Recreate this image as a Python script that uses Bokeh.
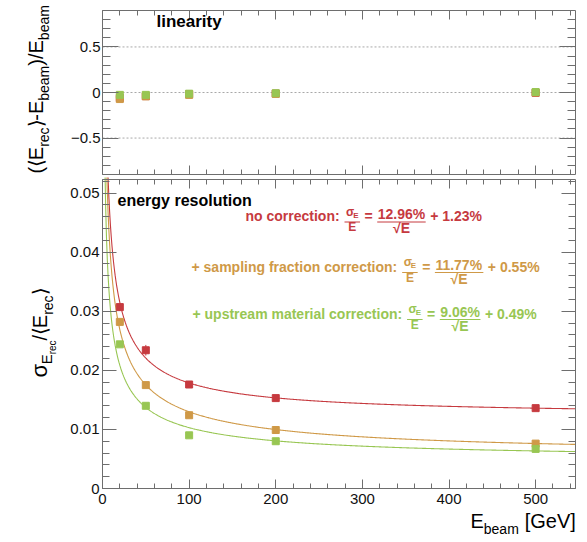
import numpy as np
from bokeh.plotting import figure
from bokeh.layouts import column
from bokeh.models import Label, FixedTicker, LinearAxis, Range1d
from bokeh.embed import file_html
from bokeh.resources import INLINE

# ---------------- data ----------------
energies = [20, 50, 100, 200, 500]
series_names = ["no correction", "+ sampling fraction correction", "+ upstream material correction"]
series_colors = ["#c63a3f", "#cf9947", "#98c653"]

res_nocorr = [0.0307, 0.0234, 0.0176, 0.0153, 0.0136]
res_sampling = [0.0282, 0.0175, 0.0124, 0.0099, 0.0076]
res_upstream = [0.0244, 0.0140, 0.0090, 0.0080, 0.0067]

err_nocorr = [0.0006, 0.0009, 0.0005, 0.0004, 0.0004]
err_sampling = [0.0005, 0.0004, 0.0004, 0.0003, 0.0003]
err_upstream = [0.0005, 0.0003, 0.0003, 0.0003, 0.0003]

lin_nocorr = [-0.060, -0.040, -0.020, -0.012, -0.004]
lin_sampling = [-0.072, -0.042, -0.026, -0.015, 0.000]
lin_upstream = [-0.026, -0.026, -0.013, -0.008, 0.005]

fit_stochastic = [12.96, 11.77, 9.06]   # % / sqrt(E)
fit_constant = [1.23, 0.55, 0.49]       # %

x_major = [0, 100, 200, 300, 400, 500]
res_major = [0, 0.01, 0.02, 0.03, 0.04, 0.05]
res_labels = ["0", "0.01", "0.02", "0.03", "0.04", "0.05"]
lin_major = [-0.5, 0, 0.5]
lin_labels = ["\u22120.5", "0", "0.5"]

# ---------------- geometry / style ----------------
FONT = "Liberation Sans"
FRAME = "#6e6e6e"
CW = 585                      # canvas width
BOX_L, BOX_W = 102, 473       # plot box (pixels, canvas coords)
X0, X1 = 0, 546
KX = (X1 - X0) / BOX_W
XL, XR = X0 - BOX_L * KX, X1 + (CW - BOX_L - BOX_W) * KX

# top panel: box 164 px high, 10 px above, 3 px below (figure 177 px)
LY0, LY1 = -0.9, 0.9
KLY = (LY1 - LY0) / 164
TOP_H = 177
LYB, LYT = LY0 - 3 * KLY, LY1 + 10 * KLY

# bottom panel: 2 px above, box 309 px, 52 px below (figure 363 px)
RY0, RY1 = 0.0, 0.0523
KRY = (RY1 - RY0) / 309
BOT_H = 363
RYB, RYT = RY0 - 52 * KRY, RY1 + 2 * KRY

BASE_FIX = 0.37   # measured shift of the rendered alphabetic baseline (in em)

BOLD_W = {' ': 278, '+': 584, ':': 333, '%': 889, '.': 278, '=': 584, 'a': 556, 'b': 611, 'c': 556,
          'd': 611, 'e': 556, 'f': 333, 'g': 611, 'h': 611, 'i': 278, 'l': 278, 'm': 889, 'n': 611,
          'o': 611, 'p': 611, 'r': 389, 's': 556, 't': 333, 'u': 611, 'y': 556, 'E': 667, 'σ': 600,
          '√': 549}
REG_W = {' ': 278, '(': 333, ')': 333, '/': 278, '-': 333, '[': 278, ']': 278, 'E': 667, 'G': 778,
         'V': 667, 'a': 556, 'b': 556, 'c': 500, 'e': 556, 'm': 833, 'r': 333, '⟨': 333, '⟩': 333,
         'σ': 600}


def tw(s, size, bold=False):
    tab = BOLD_W if bold else REG_W
    return sum(tab.get(ch, 556) for ch in s) * size / 1000.0


def put(fig, ax, ay, dx, dy, text, size, color, bold=False, rotated=False):
    if rotated:
        dx -= BASE_FIX * size
    else:
        dy += BASE_FIX * size
    fig.add_layout(Label(x=ax, y=ay, x_offset=dx, y_offset=dy, text=text,
                         text_font=FONT, text_font_size=f"{size}px",
                         text_font_style="bold" if bold else "normal",
                         text_color=color, angle=np.pi / 2 if rotated else 0.0,
                         text_align="left", text_baseline="alphabetic"))


def add_axis(fig, side, loc, bounds, ticker, major_in, minor_in, show_labels, standoff=3, overrides=None):
    ax = LinearAxis(ticker=ticker, fixed_location=loc, bounds=bounds)
    ax.major_tick_in = major_in
    ax.major_tick_out = 0
    ax.minor_tick_in = minor_in
    ax.minor_tick_out = 0
    ax.axis_line_color = FRAME
    ax.major_tick_line_color = FRAME
    ax.minor_tick_line_color = FRAME
    if show_labels:
        ax.major_label_text_font = FONT
        ax.major_label_text_font_size = "15px"
        ax.major_label_text_color = "#111111"
        ax.major_label_standoff = standoff
        if overrides:
            ax.major_label_overrides = overrides
    else:
        ax.major_label_text_color = None
    fig.add_layout(ax, side)
    return ax


def minor_list(lo, hi, step):
    n0 = int(np.ceil(lo / step - 1e-9))
    n1 = int(np.floor(hi / step + 1e-9))
    return [round(i * step, 6) for i in range(n0, n1 + 1)]


x_ticker = FixedTicker(ticks=x_major, minor_ticks=minor_list(0, 546, 20))
lin_ticker = FixedTicker(ticks=lin_major, minor_ticks=minor_list(-0.85, 0.85, 0.1))
res_ticker = FixedTicker(ticks=res_major, minor_ticks=minor_list(0, 0.0523, 0.002))


def make_fig(h, y0, y1):
    p = figure(frame_width=CW, frame_height=h, x_range=Range1d(XL, XR), y_range=Range1d(y0, y1),
               output_backend="svg", toolbar_location=None, min_border=0,
               x_axis_location=None, y_axis_location=None,
               background_fill_color="white", border_fill_color="white")
    p.outline_line_color = None
    p.grid.visible = False
    return p


# ---------------- top panel: linearity ----------------
top = make_fig(TOP_H, LYB, LYT)
add_axis(top, "below", LY0, (X0, X1), x_ticker, 9, 5, False)
add_axis(top, "above", LY1, (X0, X1), x_ticker, 9, 5, False)
add_axis(top, "left", X0, (LY0, LY1), lin_ticker, 16, 8, True, standoff=2,
         overrides=dict(zip(lin_major, lin_labels)))
add_axis(top, "right", X1, (LY0, LY1), lin_ticker, 16, 8, False)

# dotted horizontal grid lines at the major ticks
top.segment([X0] * len(lin_major), lin_major, [X1] * len(lin_major), lin_major,
            line_color="#a8a8a8", line_dash="2 2", line_width=1)

for ys, col in zip([lin_nocorr, lin_sampling, lin_upstream], series_colors):
    top.scatter(energies, ys, marker="square", size=7, color=col, line_color=col)

put(top, X0, LY1, 54, -17.3, "linearity", 17, "#000000", bold=True)
rot_pieces_top = [("(", 20, 0), ("⟨", 20, 0), ("E", 20, 0), ("rec", 14, 6), ("⟩", 20, 0), ("-", 20, 0),
                  ("E", 20, 0), ("beam", 14, 6), (")", 20, 0), ("/", 20, 0), ("E", 20, 0), ("beam", 14, 6)]
yy = 1.0
for t, s, sh in rot_pieces_top:
    put(top, X0, LY0, -59 + sh, yy, t, s, "#000000", rotated=True)
    yy += tw(t, s)

# ---------------- bottom panel: resolution ----------------
bot = make_fig(BOT_H, RYB, RYT)
add_axis(bot, "below", RY0, (X0, X1), x_ticker, 9, 5, True, standoff=5)
add_axis(bot, "above", RY1, (X0, X1), x_ticker, 9, 5, False)
add_axis(bot, "left", X0, (RY0, RY1), res_ticker, 14, 7, True, standoff=3,
         overrides=dict(zip(res_major, res_labels)))
add_axis(bot, "right", X1, (RY0, RY1), res_ticker, 14, 7, False)

e_curve = np.linspace(1.0, X1, 600)
for a, b, col in zip(fit_stochastic, fit_constant, series_colors):
    curve = np.sqrt((a / 100.0 / np.sqrt(e_curve)) ** 2 + (b / 100.0) ** 2)
    bot.line(e_curve, curve, line_color=col, line_width=1.1)

for ys, es, col in zip([res_nocorr, res_sampling, res_upstream], [err_nocorr, err_sampling, err_upstream],
                       series_colors):
    lo = [y - e for y, e in zip(ys, es)]
    hi = [y + e for y, e in zip(ys, es)]
    bot.segment(energies, lo, energies, hi, line_color=col, line_width=1)
    bot.scatter(energies, ys, marker="square", size=7, color=col, line_color=col)

put(bot, X0, RY1, 15, -26.5, "energy resolution", 16, "#000000", bold=True)


def bar(fig, px0, px1, py, color):
    fig.segment([X0 + px0 * KX], [RY1 - py * KRY], [X0 + px1 * KX], [RY1 - py * KRY],
                line_color=color, line_width=1)


def formula(fig, px, py, name, a, b, color):
    S = 14
    GAP = 4.5
    txt = name + ":"
    put(fig, X0, RY1, px, -py, txt, S, color, bold=True)
    x = px + tw(txt + " ", S, True) + 1
    fs = 12
    nw = tw("σ", fs, True) + tw("E", 8, True)
    dw = tw("E", fs, True)
    w = max(nw, dw) + 3
    put(fig, X0, RY1, x + (w - nw) / 2, -(py - 5.5), "σ", fs, color, bold=True)
    put(fig, X0, RY1, x + (w - nw) / 2 + tw("σ", fs, True), -(py - 3.5), "E", 8, color, bold=True)
    bar(fig, x, x + w, py + 0.5, color)
    put(fig, X0, RY1, x + (w - dw) / 2, -(py + 10), "E", fs, color, bold=True)
    x += w + GAP
    put(fig, X0, RY1, x, -py, "=", S, color, bold=True)
    x += tw("=", S, True) + GAP
    num = f"{a:.2f}%"
    den = "√E"
    nw = tw(num, S, True)
    dw = tw(den, S, True)
    w = max(nw, dw) + 1
    put(fig, X0, RY1, x + (w - nw) / 2, -(py - 2), num, S, color, bold=True)
    bar(fig, x, x + w, py + 0.5, color)
    put(fig, X0, RY1, x + (w - dw) / 2, -(py + 12), den, S, color, bold=True)
    x += w + GAP
    put(fig, X0, RY1, x, -py, f"+ {b:.2f}%", S, color, bold=True)


starts = [(143, 42.0), (89, 92.5), (90, 139.5)]
for (px, py), name, a, b, col in zip(starts, series_names, fit_stochastic, fit_constant, series_colors):
    formula(bot, px, py, name, a, b, col)

# x-axis title
xt_total = tw("E", 20) + tw("beam", 14) + tw(" [GeV]", 20)
xs = BOX_W - xt_total
put(bot, X0, RY0, xs, -40, "E", 20, "#000000")
put(bot, X0, RY0, xs + tw("E", 20), -46, "beam", 14, "#000000")
put(bot, X0, RY0, xs + tw("E", 20) + tw("beam ", 14) + 2, -40, "[GeV]", 20, "#000000")

# y-axis title (rotated)
rot_pieces_bot = [("σ", 22, 0), ("E", 15, 5), ("rec", 10, 9), ("/", 20, 0), ("⟨", 20, 0), ("E", 20, 0),
                  ("rec", 14, 6), ("⟩", 20, 0)]
yy = 111.0
for t, s, sh in rot_pieces_bot:
    put(bot, X0, RY0, -55 + sh, yy, t, s, "#000000", rotated=True)
    yy += tw(t, s)

layout = column(top, bot, spacing=0)
open("out.html", "w").write(file_html(layout, INLINE))
